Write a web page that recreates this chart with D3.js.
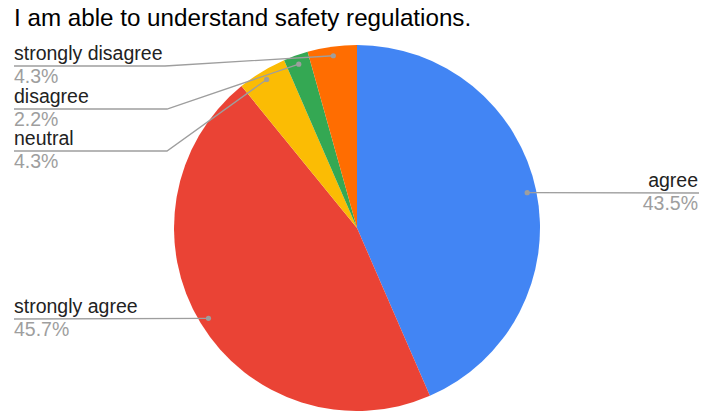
<!DOCTYPE html>
<html>
<head>
<meta charset="utf-8">
<script src="https://cdn.jsdelivr.net/npm/d3@7"></script>
<style>
  html, body { margin: 0; padding: 0; background: #fff; }
  svg { display: block; font-family: "Liberation Sans", Arial, Helvetica, sans-serif; }
</style>
</head>
<body>
<svg id="chart" width="701" height="411"></svg>
<script>
// Survey responses, in drawing order (clockwise from 12 o'clock)
const categories = ["agree", "strongly agree", "neutral", "disagree", "strongly disagree"];
const counts = [20, 21, 2, 1, 2];
const colors = ["#4285F4", "#EA4335", "#FBBC04", "#34A853", "#FF6D01"];
const title = "I am able to understand safety regulations.";

// Label placement: side, leader line height, and elbow x (null = straight line)
const labelLayout = {
  "agree":             { side: "right", lineY: 193, elbowX: null },
  "strongly agree":    { side: "left",  lineY: 319, elbowX: null },
  "neutral":           { side: "left",  lineY: 151, elbowX: 167 },
  "disagree":          { side: "left",  lineY: 109, elbowX: 167 },
  "strongly disagree": { side: "left",  lineY: 66,  elbowX: 165 }
};

const width = 701, height = 411;
const cx = 357, cy = 228, radius = 183;
const leftX = 14, rightX = 698;

const svg = d3.select("#chart");

svg.append("text")
  .attr("x", 14).attr("y", 26)
  .attr("font-size", 24.2)
  .attr("fill", "#000")
  .text(title);

const data = categories.map((c, i) => ({ name: c, value: counts[i], color: colors[i] }));
const total = d3.sum(counts);
const fmt = d3.format(".1%");

const pie = d3.pie().sort(null).value(d => d.value);
const arcs = pie(data);
const arc = d3.arc().innerRadius(0).outerRadius(radius);
const dotArc = d3.arc().innerRadius(radius * 0.95).outerRadius(radius * 0.95);

const g = svg.append("g").attr("transform", `translate(${cx},${cy})`);

g.selectAll("path.slice")
  .data(arcs)
  .join("path")
  .attr("class", "slice")
  .attr("d", arc)
  .attr("fill", d => d.data.color);

// Leader lines and labels
const labels = svg.append("g");
arcs.forEach(a => {
  const L = labelLayout[a.data.name];
  const [dx, dy] = dotArc.centroid(a);
  const px = cx + dx, py = cy + dy;
  let pts;
  if (L.side === "left") {
    pts = L.elbowX == null
      ? [[leftX, L.lineY], [px, py]]
      : [[leftX, L.lineY], [L.elbowX, L.lineY], [px, py]];
  } else {
    pts = [[px, py], [rightX + 1, L.lineY]];
  }
  labels.append("path")
    .attr("d", d3.line()(pts))
    .attr("fill", "none")
    .attr("stroke", "#9e9e9e")
    .attr("stroke-width", 1.3);
  labels.append("circle")
    .attr("cx", px).attr("cy", py).attr("r", 2.6)
    .attr("fill", "#9e9e9e");

  const tx = L.side === "left" ? leftX : rightX;
  const anchor = L.side === "left" ? "start" : "end";
  labels.append("text")
    .attr("x", tx).attr("y", L.lineY - 6)
    .attr("text-anchor", anchor)
    .attr("font-size", 19.5)
    .attr("fill", "#222")
    .text(a.data.name);
  labels.append("text")
    .attr("x", tx).attr("y", L.lineY + 17)
    .attr("text-anchor", anchor)
    .attr("font-size", 19.5)
    .attr("fill", "#9e9e9e")
    .text(fmt(a.data.value / total));
});
</script>
</body>
</html>
